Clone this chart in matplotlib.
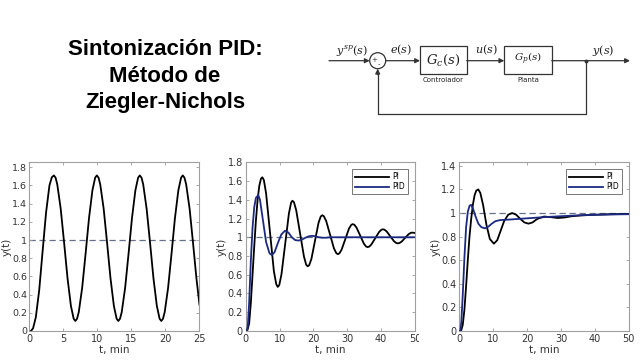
import matplotlib
matplotlib.use('Agg')
import matplotlib.pyplot as plt
from matplotlib.patches import Rectangle, Circle

plt.rcParams['mathtext.fontset'] = 'dejavuserif'

# ---- data ----
# panel 1: closed loop at ultimate gain (sustained oscillation)
t_osc = [0, 0.3, 0.6, 1.0, 1.5, 2.0, 2.5, 3.0, 3.35, 3.65,
         3.9, 4.15, 4.65, 5.15, 5.65, 6.15, 6.55, 6.8,
         7.05, 7.3, 7.8, 8.3, 8.8, 9.3, 9.7, 9.95,
         10.2, 10.45, 10.95, 11.45, 11.95, 12.45, 12.85, 13.1,
         13.35, 13.6, 14.1, 14.6, 15.1, 15.6, 16.0, 16.25,
         16.5, 16.75, 17.25, 17.75, 18.25, 18.75, 19.15, 19.4,
         19.65, 19.9, 20.4, 20.9, 21.4, 21.9, 22.3, 22.55,
         22.8, 23.05, 23.55, 24.05, 24.55, 25.0]
y_osc = [0, 0.0, 0.03, 0.15, 0.45, 0.88, 1.3, 1.6, 1.69, 1.71,
         1.685, 1.61, 1.344, 0.97, 0.58, 0.274, 0.135, 0.11,
         0.135, 0.208, 0.476, 0.85, 1.24, 1.546, 1.685, 1.71,
         1.685, 1.61, 1.344, 0.97, 0.58, 0.274, 0.135, 0.11,
         0.135, 0.208, 0.476, 0.85, 1.24, 1.546, 1.685, 1.71,
         1.685, 1.61, 1.344, 0.97, 0.58, 0.274, 0.135, 0.11,
         0.135, 0.208, 0.476, 0.85, 1.24, 1.546, 1.685, 1.71,
         1.685, 1.61, 1.344, 0.97, 0.58, 0.29]

# panel 2: ZN tuning, PI and PID
t_pi2 = [0, 0.5, 1.0, 1.5, 2.0, 2.5, 3.0, 3.5, 4.0, 4.5, 4.9,
         5.35, 6.0, 7.15, 8.3, 9.0, 9.45,
         9.9, 10.55, 11.65, 12.75, 13.4, 13.8,
         14.25, 14.9, 16.05, 17.2, 17.85, 18.3,
         18.75, 19.4, 20.45, 21.5, 22.15, 22.6,
         23.05, 23.75, 24.9, 26.05, 26.75, 27.2,
         27.65, 28.3, 29.4, 30.5, 31.15, 31.6,
         32.05, 32.7, 33.8, 34.9, 35.55, 36.0,
         36.45, 37.1, 38.25, 39.4, 40.05, 40.5,
         40.95, 41.6, 42.7, 43.8, 44.45, 44.9,
         45.35, 46.0, 47.05, 48.1, 48.75, 49.2, 50.0]
y_pi2 = [0, 0.01, 0.08, 0.3, 0.6, 0.9, 1.18, 1.4, 1.55, 1.625, 1.64,
         1.61, 1.47, 1.055, 0.64, 0.5, 0.47,
         0.49, 0.605, 0.93, 1.255, 1.37, 1.39,
         1.373, 1.288, 1.04, 0.792, 0.707, 0.69,
         0.703, 0.77, 0.963, 1.155, 1.222, 1.235,
         1.225, 1.174, 1.028, 0.881, 0.83, 0.82,
         0.828, 0.867, 0.98, 1.093, 1.132, 1.14,
         1.134, 1.104, 1.018, 0.931, 0.901, 0.895,
         0.90, 0.923, 0.99, 1.057, 1.08, 1.085,
         1.081, 1.063, 1.01, 0.957, 0.939, 0.935,
         0.938, 0.952, 0.993, 1.033, 1.047, 1.05, 1.045]
t_pid2 = [0, 0.3, 0.6, 1.0, 1.5, 2.0, 2.5, 3.0, 3.7, 4.2, 5.0, 6.0, 7.0,
          7.7, 8.5, 9.5, 10.5, 11.6, 12.6, 13.6, 14.6, 15.6, 16.6, 17.6,
          18.6, 19.6, 20.6, 21.6, 22.6, 23.6, 25.0, 27.0, 30.0, 50.0]
y_pid2 = [0, 0.0, 0.05, 0.3, 0.75, 1.1, 1.32, 1.42, 1.45, 1.40, 1.2, 0.95, 0.83,
          0.81, 0.84, 0.94, 1.03, 1.07, 1.05, 1.0, 0.97, 0.965, 0.975, 0.995,
          1.01, 1.015, 1.01, 1.0, 0.995, 0.995, 1.0, 1.0, 1.0, 1.0]

# panel 3: tuned PI and PID
t_pi3 = [0, 0.5, 1.0, 1.5, 2.0, 2.5, 3.0, 3.5, 4.0, 4.5, 5.0, 5.6, 6.2, 7.0,
         8.0, 9.0, 10.2, 11.2, 12.2, 13.2, 14.4, 15.6, 16.8, 18.0, 19.2,
         20.4, 21.6, 23.0, 25.0, 27.0, 29.0, 31.0, 33.0, 36.0, 40.0, 45.0, 50.0]
y_pi3 = [0, 0.0, 0.05, 0.18, 0.38, 0.6, 0.8, 0.95, 1.07, 1.15, 1.19, 1.2, 1.17, 1.07,
         0.9, 0.78, 0.74, 0.77, 0.85, 0.93, 0.985, 1.0, 0.985, 0.95, 0.92,
         0.91, 0.92, 0.95, 0.97, 0.965, 0.958, 0.962, 0.972, 0.98, 0.985, 0.99, 0.992]
t_pid3 = [0, 0.3, 0.6, 1.0, 1.5, 2.0, 2.5, 3.0, 3.45, 4.0, 4.8, 5.6, 6.5,
          7.6, 8.6, 9.6, 10.6, 12.0, 15.0, 20.0, 25.0, 30.0, 35.0, 40.0, 45.0, 50.0]
y_pid3 = [0, 0.0, 0.08, 0.3, 0.62, 0.88, 1.01, 1.06, 1.07, 1.04, 0.97, 0.91, 0.88,
          0.87, 0.885, 0.91, 0.93, 0.94, 0.945, 0.955, 0.965, 0.973, 0.98, 0.985, 0.988, 0.99]

setpoint = 1.0

BLUE = '#1d2a82'
DASH = '#667088'

fig = plt.figure(figsize=(6.4, 3.6), dpi=100)
fig.patch.set_facecolor('white')


def style_axes(ax, xmax, ymax, xticks, yticks):
    ax.set_xlim(0, xmax)
    ax.set_ylim(0, ymax)
    ax.set_xticks(xticks)
    ax.set_yticks(yticks)
    ax.set_xticklabels([f'{v:g}' for v in xticks])
    ax.set_yticklabels([f'{v:g}' for v in yticks])
    ax.tick_params(direction='in', length=2.5, width=0.6, top=True, right=True,
                   labelsize=7, colors='#9a9a9a', labelcolor='#333333', pad=2)
    for s in ax.spines.values():
        s.set_color('#a0a0a0')
        s.set_linewidth(0.8)
    ax.set_xlabel('t, min', fontsize=7.5, color='#333333', labelpad=1)
    ax.set_ylabel('y(t)', fontsize=7.5, color='#333333', labelpad=0.5)
    ax.axhline(setpoint, color=DASH, lw=0.9, ls=(0, (5, 3)), zorder=1)


yt = [0, 0.2, 0.4, 0.6, 0.8, 1, 1.2, 1.4, 1.6, 1.8]

ax1 = fig.add_axes([0.0453, 0.0806, 0.2664, 0.470])
ax1.plot(t_osc, y_osc, color='black', lw=1.3, zorder=2)
style_axes(ax1, 25, 1.86, [0, 5, 10, 15, 20, 25], yt)
ax1.tick_params(axis='y', labelsize=6.8, pad=1.5)

ax2 = fig.add_axes([0.384, 0.0806, 0.2645, 0.4686])
ax2.plot(t_pi2, y_pi2, color='black', lw=1.3, label='PI', zorder=2)
ax2.plot(t_pid2, y_pid2, color=BLUE, lw=1.3, label='PID', zorder=3)
style_axes(ax2, 50, 1.8, [0, 10, 20, 30, 40, 50], yt)

ax3 = fig.add_axes([0.7177, 0.0806, 0.2647, 0.4686])
ax3.plot(t_pi3, y_pi3, color='black', lw=1.3, label='PI', zorder=2)
ax3.plot(t_pid3, y_pid3, color=BLUE, lw=1.3, label='PID', zorder=3)
style_axes(ax3, 50, 1.43, [0, 10, 20, 30, 40, 50], yt[:8])

for ax in (ax2, ax3):
    leg = ax.legend(loc='upper right', fontsize=5.5, frameon=True, fancybox=False,
                    handlelength=4.5, borderaxespad=0.9, borderpad=0.4,
                    labelspacing=0.15, handletextpad=0.4)
    leg.get_frame().set_edgecolor('#555555')
    leg.get_frame().set_linewidth(0.7)

# ---- overlay in pixel coords: title + block diagram ----
ov = fig.add_axes([0, 0, 1, 1], zorder=10)
ov.set_xlim(0, 640)
ov.set_ylim(360, 0)
ov.axis('off')
ov.patch.set_alpha(0)

ov.text(165, 76, 'Sintonización PID:\nMétodo de\nZiegler-Nichols', ha='center', va='center',
        fontsize=16, fontweight='bold', family='Liberation Sans', linespacing=1.33)

lc = '#333333'
arr = dict(arrowstyle='-|>', color=lc, lw=0.9, mutation_scale=7, shrinkA=0, shrinkB=0)
yl = 60.7
cx, r = 377.7, 8
ov.annotate('', xy=(cx - r, yl), xytext=(329, yl), arrowprops=arr)
ov.add_patch(Circle((cx, yl), r, fill=False, ec=lc, lw=0.9))
ov.text(cx - 3.5, yl - 1, '+', fontsize=5, ha='center', va='center', color=lc)
ov.text(cx + 1, yl + 4, '-', fontsize=5, ha='center', va='center', color=lc)
ov.annotate('', xy=(420, yl), xytext=(cx + r, yl), arrowprops=arr)
ov.add_patch(Rectangle((420, 46), 46.7, 28.3, fill=False, ec=lc, lw=0.9))
ov.annotate('', xy=(504.3, yl), xytext=(466.7, yl), arrowprops=arr)
ov.add_patch(Rectangle((504.3, 46), 47.4, 28.3, fill=False, ec=lc, lw=0.9))
ov.annotate('', xy=(630, yl), xytext=(551.7, yl), arrowprops=arr)
ov.plot([585.7, 585.7, cx, cx], [yl, 114, 114, yl + r + 5], color=lc, lw=0.9)
ov.annotate('', xy=(cx, yl + r), xytext=(cx, yl + r + 6), arrowprops=arr)
ov.plot([585.7], [yl], marker='o', ms=1.8, color=lc)

mfont = dict(ha='center', va='center', color='#222222')
ov.text(352, 50, r'$y^{sp}(s)$', fontsize=8, **mfont)
ov.text(401, 50, r'$e(s)$', fontsize=8, **mfont)
ov.text(486, 50, r'$u(s)$', fontsize=8, **mfont)
ov.text(603, 50, r'$y(s)$', fontsize=8, **mfont)
ov.text(443, 60, r'$G_c(s)$', fontsize=9.5, **mfont)
ov.text(528, 59, r'$G_p(s)$', fontsize=7.5, **mfont)
ov.text(443, 80.5, 'Controlador', fontsize=5, ha='center', va='center', color='#222222')
ov.text(528, 80.5, 'Planta', fontsize=5, ha='center', va='center', color='#222222')

# white strip between panel 2 and 3 (clips the last tick label of panel 2 as in the source)
ov.add_patch(Rectangle((419, 334), 30, 26, fc='white', ec='none'))

fig.savefig('out.png', dpi=100, facecolor='white')
